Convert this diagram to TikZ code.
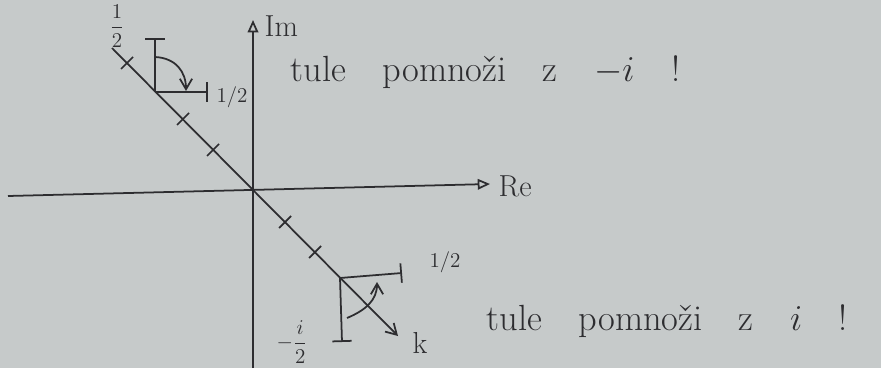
\documentclass[tikz,border=0pt]{standalone}
\usetikzlibrary{arrows.meta}
\definecolor{paper}{RGB}{198,202,202}
\definecolor{pencil}{RGB}{45,45,48}
\begin{document}
\begin{tikzpicture}[x=0.02cm, y=-0.02cm, >={Straight Barb[length=6pt, width=7pt]},
    line width=1pt, draw=pencil, text=pencil,
    axis/.style={-{Triangle[open, length=7pt, width=6pt]}},
    capend/.style={-{Bar[width=11pt]}},
    lbl/.style={font=\LARGE, inner sep=1pt},
    note/.style={font=\huge, inner sep=0pt,
        execute at begin node={\spaceskip=1em\relax}}]
    \fill[paper] (0,0) rectangle (881,368);
    \useasboundingbox (0,0) rectangle (881,368);

    % axes
    \coordinate (reW) at (8,196);
    \coordinate (reE) at (490,184);
    \coordinate (imS) at (253,368);
    \coordinate (imN) at (253,20);
    \draw[axis] (reW) -- (reE);
    \draw[axis] (imS) -- (imN);
    \node[lbl, anchor=west] (re) at (496,186) {Re};
    \node[lbl, anchor=west] (im) at (262,26) {Im};

    % diagonal with ticks
    \coordinate (dTop) at (112,48);
    \coordinate (kTip) at (398,336);
    \draw[->] (dTop) -- (kTip);
    \node[lbl, anchor=west] (k) at (410,343) {k};
    \foreach \x/\y in {127/63, 183/119, 213/150, 285/222, 315/252}
        \draw (\x-6,\y+6) -- (\x+6,\y-6);

    % upper bracket
    \coordinate (cUp) at (155,92);
    \coordinate (cUpN) at (155,38);
    \coordinate (cUpE) at (208,92);
    \draw[capend] (cUp) -- (cUpN);
    \draw[capend] (cUp) -- (cUpE);
    \coordinate (aUpS) at (155,57);
    \coordinate (aUpE) at (186,91);
    \draw[->] (aUpS) .. controls (176,58) and (186,72) .. (aUpE);
    \node[lbl, font=\large] (halfUp) at (232,97) {$1/2$};
    \node[lbl] (fracUp) at (117,26) {\large$\displaystyle\frac{1}{2}$};

    % lower bracket
    \coordinate (cLo) at (340,278);
    \coordinate (cLoE) at (402,273);
    \coordinate (cLoS) at (342,342);
    \draw[capend] (cLo) -- (cLoE);
    \draw[capend] (cLo) -- (cLoS);
    \coordinate (aLoS) at (347,318);
    \coordinate (aLoE) at (377,282);
    \draw[->] (aLoS) .. controls (366,310) and (377,300) .. (aLoE);
    \node[lbl, font=\large] (halfLo) at (445,262) {$1/2$};
    \node[lbl] (fracLo) at (292,342) {\large$\displaystyle-\frac{i}{2}$};

    % notes
    \node[note, anchor=base west] (noteUp) at (290,82) {tule pomnoži z $-i$ !};
    \node[note, anchor=base west] (noteLo) at (486,330) {tule pomnoži z $i$ !};
\end{tikzpicture}
\end{document}
